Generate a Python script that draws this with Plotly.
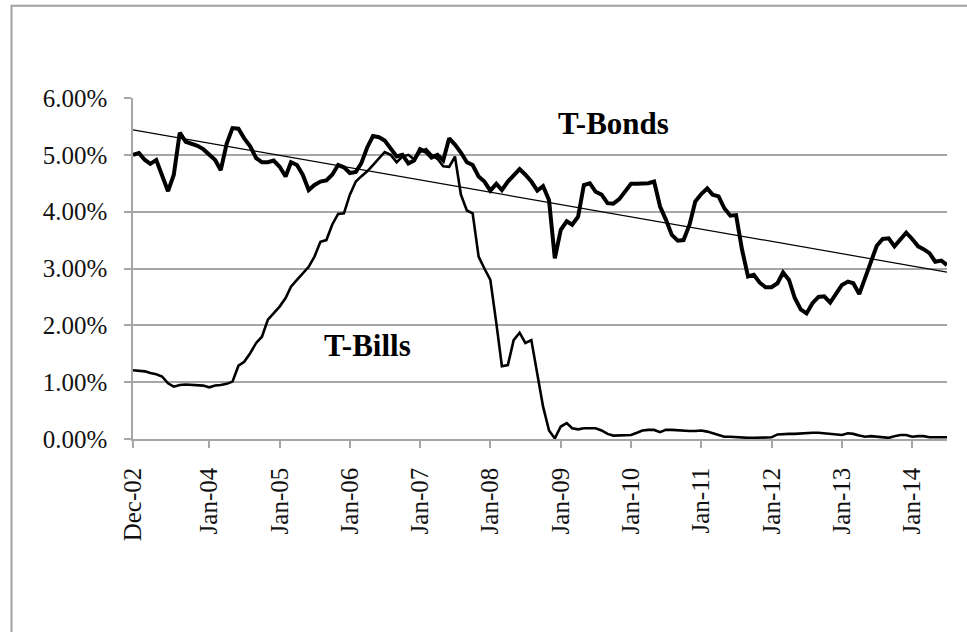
import numpy as np
import pandas as pd
import plotly.graph_objects as go

# Monthly observations, Dec-2002 .. Jul-2014 (yields in %)
months = pd.date_range("2002-12-01", periods=140, freq="MS")

t_bonds = [
    5.00, 5.03, 4.91, 4.84, 4.91, 4.62, 4.36, 4.65, 5.39, 5.23, 5.20, 5.16,
    5.10, 5.00, 4.91, 4.73, 5.20, 5.47, 5.46, 5.29, 5.15, 4.94, 4.87, 4.87,
    4.90, 4.79, 4.62, 4.87, 4.82, 4.65, 4.38, 4.47, 4.53, 4.55, 4.65, 4.82,
    4.78, 4.68, 4.70, 4.85, 5.13, 5.33, 5.31, 5.25, 5.10, 4.97, 5.00, 4.85,
    4.90, 5.10, 5.05, 4.95, 5.00, 4.90, 5.29, 5.18, 5.04, 4.87, 4.82, 4.62,
    4.53, 4.37, 4.49, 4.38, 4.53, 4.65, 4.75, 4.65, 4.53, 4.37, 4.45, 4.20,
    3.18, 3.68, 3.83, 3.77, 3.91, 4.47, 4.50, 4.35, 4.30, 4.15, 4.14, 4.22,
    4.35, 4.49, 4.49, 4.49, 4.50, 4.53, 4.09, 3.86, 3.59, 3.49, 3.50, 3.77,
    4.18, 4.31, 4.41, 4.30, 4.27, 4.06, 3.93, 3.94, 3.33, 2.86, 2.89, 2.75,
    2.67, 2.67, 2.74, 2.93, 2.80, 2.48, 2.28, 2.21, 2.39, 2.50, 2.51, 2.40,
    2.54, 2.71, 2.77, 2.74, 2.55, 2.83, 3.15, 3.40, 3.52, 3.53, 3.39, 3.50,
    3.63, 3.52, 3.39, 3.34, 3.27, 3.12, 3.14, 3.06,
]

t_bills = [
    1.21, 1.20, 1.19, 1.16, 1.14, 1.10, 0.98, 0.92, 0.95, 0.96, 0.95, 0.95,
    0.94, 0.91, 0.94, 0.95, 0.97, 1.01, 1.29, 1.36, 1.51, 1.69, 1.80, 2.10,
    2.21, 2.33, 2.48, 2.68, 2.80, 2.92, 3.03, 3.21, 3.47, 3.50, 3.77, 3.96,
    3.97, 4.30, 4.53, 4.62, 4.71, 4.82, 4.94, 5.05, 5.00, 4.87, 4.97, 5.00,
    4.92, 5.05, 5.10, 5.00, 4.93, 4.80, 4.79, 4.97, 4.30, 4.02, 3.97, 3.21,
    3.00, 2.80, 2.04, 1.28, 1.30, 1.74, 1.87, 1.69, 1.74, 1.12, 0.57, 0.15,
    0.01, 0.22, 0.28, 0.19, 0.17, 0.19, 0.19, 0.19, 0.15, 0.09, 0.06, 0.06,
    0.06, 0.07, 0.11, 0.15, 0.16, 0.16, 0.12, 0.16, 0.16, 0.15, 0.14, 0.14,
    0.14, 0.15, 0.13, 0.10, 0.06, 0.04, 0.04, 0.03, 0.03, 0.02, 0.02, 0.02,
    0.02, 0.03, 0.08, 0.09, 0.09, 0.09, 0.10, 0.10, 0.11, 0.11, 0.10, 0.09,
    0.08, 0.07, 0.10, 0.09, 0.06, 0.04, 0.05, 0.04, 0.04, 0.02, 0.05, 0.07,
    0.07, 0.04, 0.05, 0.05, 0.03, 0.03, 0.04, 0.03,
]

tick_dates = ["2002-12-01", "2004-01-01", "2005-01-01", "2006-01-01", "2007-01-01",
              "2008-01-01", "2009-01-01", "2010-01-01", "2011-01-01", "2012-01-01",
              "2013-01-01", "2014-01-01"]
tick_labels = ["Dec-02", "Jan-04", "Jan-05", "Jan-06", "Jan-07", "Jan-08", "Jan-09",
               "Jan-10", "Jan-11", "Jan-12", "Jan-13", "Jan-14"]

y_ticks = [0, 1, 2, 3, 4, 5, 6]

# Linear trend of T-Bonds (least squares, as an Excel linear trendline)
idx = np.arange(len(t_bonds))
slope, intercept = np.polyfit(idx, t_bonds, 1)
trend = slope * idx + intercept

FONT = "Liberation Serif, Times New Roman, serif"
GRID = "#a6a6a6"

fig = go.Figure()
fig.add_trace(go.Scatter(x=months, y=t_bills, mode="lines",
                         line=dict(color="black", width=2.6), name="T-Bills"))
fig.add_trace(go.Scatter(x=months, y=t_bonds, mode="lines",
                         line=dict(color="black", width=4), name="T-Bonds"))
fig.add_trace(go.Scatter(x=[months[0], months[-1]], y=[trend[0], trend[-1]], mode="lines",
                         line=dict(color="black", width=1.2), name="Trend"))

fig.add_annotation(x="2009-10-01", y=5.55, text="<b>T-Bonds</b>", showarrow=False,
                   font=dict(family=FONT, size=31, color="black"))
fig.add_annotation(x="2006-04-01", y=1.64, text="<b>T-Bills</b>", showarrow=False,
                   font=dict(family=FONT, size=31, color="black"))

# chart-area border (only top and left edges fall inside the picture)
W, H = 967, 632
L, R, T, B = 132.5, 20.3, 98.3, 192.7
pw, ph = W - L - R, H - T - B
fig.add_shape(type="rect", xref="paper", yref="paper",
              x0=(11 - L) / pw, x1=1.2, y0=(H - B - 6) / ph, y1=-1.0,
              line=dict(color="#a0a0a0", width=2), layer="below")

fig.update_layout(
    width=W, height=H,
    margin=dict(l=L, r=R, t=T, b=B, autoexpand=False),
    paper_bgcolor="white", plot_bgcolor="white",
    showlegend=False,
    font=dict(family=FONT, size=25, color="#111111"),
)
fig.update_xaxes(
    type="date", range=[months[0], months[-1]],
    tickmode="array", tickvals=tick_dates, ticktext=tick_labels,
    tickangle=-90, ticks="outside", ticklen=7, tickcolor=GRID, tickwidth=1.5,
    showgrid=False, showline=True, linecolor=GRID, linewidth=1.5,
    tickfont=dict(family=FONT, size=25, color="#111111"),
    ticklabelstandoff=10, zeroline=False,
)
fig.update_yaxes(
    range=[0, 6], tickmode="array", tickvals=y_ticks,
    ticktext=[f"{v:.2f}%" for v in y_ticks],
    ticks="outside", ticklen=7, tickcolor=GRID, tickwidth=1.5,
    showgrid=True, gridcolor=GRID, gridwidth=1.5,
    showline=True, linecolor=GRID, linewidth=1.5, zeroline=False,
    tickfont=dict(family=FONT, size=25, color="#111111"),
    ticklabelstandoff=12,
)

fig.write_html("out.html",
               config={"displayModeBar": False},
               post_script="document.body.style.margin='0px';document.body.style.overflow='hidden';")
